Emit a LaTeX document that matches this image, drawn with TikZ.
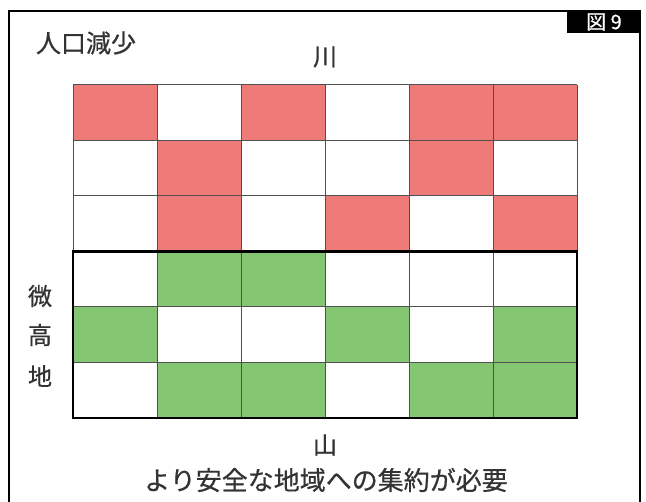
\documentclass[tikz,border=0pt]{standalone}
\usepackage{fontspec}
\newfontfamily\jp[FakeBold=0.6]{Noto Sans CJK JP}
\definecolor{cellred}{HTML}{EE7B78}
\definecolor{cellgreen}{HTML}{85C672}
\definecolor{gridgray}{HTML}{505050}
\definecolor{txt}{HTML}{333333}
\begin{document}
\begin{tikzpicture}[x=1pt,y=-1pt,
  lbl/.style={font=\jp\fontsize{24}{24}\selectfont, text=txt, inner sep=0pt},
  gridline/.style={draw=gridgray, line width=1pt},
  block/.style={draw=black, line width=2.6pt}]
\useasboundingbox (0,0) rectangle (646,502);
\fill[white] (0,0) rectangle (646,502);
% frame
\draw[line width=1.3pt] (9,502) -- (9,11) -- (640,11) -- (640,502);
\fill[black] (567,11) rectangle (640,33);
\node[font=\jp\fontsize{20}{20}\selectfont, text=white, inner sep=0pt] (fig) at (604,22) {図 9};
% cells
\foreach \c/\r in {0/0,2/0,4/0,5/0,1/1,4/1,1/2,3/2,5/2}
  \fill[cellred] (73+84*\c, 85+55.5*\r) rectangle ++(84,55.5);
\foreach \c/\r in {1/3,2/3,0/4,3/4,5/4,1/5,2/5,4/5,5/5}
  \fill[cellgreen] (73+84*\c, 85+55.5*\r) rectangle ++(84,55.5);
% grid
\foreach \i in {0,...,6} {
  \draw[gridline] (73+84*\i, 85) -- (73+84*\i, 418);
  \draw[gridline] (73, 85+55.5*\i) -- (577, 85+55.5*\i);
}
\draw[block] (73,251.5) rectangle (577,418);
% labels
\node[lbl, font=\jp\fontsize{25}{25}\selectfont] (pop) at (86,43) {人口減少};
\node[lbl] (river) at (325,57) {川};
\node[lbl] (h1) at (40,296) {微};
\node[lbl] (h2) at (40,335) {高};
\node[lbl] (h3) at (40,376) {地};
\node[lbl] (mtn) at (325,445) {山};
\node[lbl, font=\jp\fontsize{26}{26}\selectfont] (msg) at (326,480) {より安全な地域への集約が必要};
\end{tikzpicture}
\end{document}
